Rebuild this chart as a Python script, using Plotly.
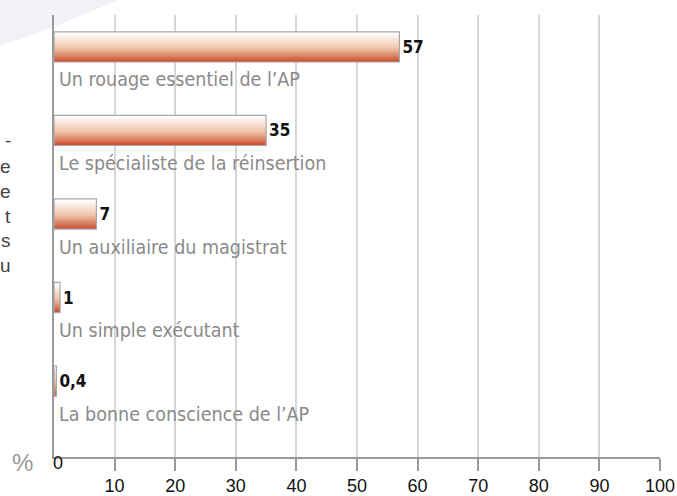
import plotly.graph_objects as go

categories = ["Un rouage essentiel de l\u2019AP", "Le sp\u00e9cialiste de la r\u00e9insertion",
              "Un auxiliaire du magistrat", "Un simple ex\u00e9cutant",
              "La bonne conscience de l\u2019AP"]
values = [57, 35, 7, 1, 0.4]
value_labels = ["57", "35", "7", "1", "0,4"]
tick_vals = [10, 20, 30, 40, 50, 60, 70, 80, 90, 100]
tick_text = ["10", "20", "30", "40", "50", "60", "70", "80", "90", "100"]
side_fragments = ["-", "e", "e", "t", "s", "u"]

W, H = 677, 496
ML, MR, MT, MB = 54, 17, 15, 39
PW, PH = W - ML - MR, H - MT - MB

def px2paper(px, py):
    return (px - ML) / PW, (H - MB - py) / PH

NARROW = "DejaVu Sans Condensed, Liberation Sans Narrow, sans-serif"
PLAIN = "Liberation Sans, Arial, sans-serif"

fig = go.Figure()

# gradient bars built from stacked layers (each later layer covers the rest below)
N = 16
bw = 0.36
step = bw / N
top = (255, 255, 255)
mid = (240, 196, 170)
bot = (204, 84, 52)
def lerp(a, b, t):
    return tuple(int(round(a[i] + (b[i] - a[i]) * t)) for i in range(3))
for k in range(N):
    t = k / (N - 1)
    if t < 0.55:
        c = lerp(top, mid, t / 0.55)
    else:
        c = lerp(mid, bot, (t - 0.55) / 0.45)
    fig.add_trace(go.Bar(
        x=values, y=categories, orientation="h",
        width=bw - k * step, offset=-bw / 2 + k * step,
        marker=dict(color="rgb(%d,%d,%d)" % c, line=dict(width=0)),
        hoverinfo="skip", showlegend=False))

# outline + value labels
fig.add_trace(go.Bar(
    x=values, y=categories, orientation="h",
    width=bw, offset=-bw / 2,
    marker=dict(color="rgba(0,0,0,0)", line=dict(color="#a8a8a8", width=1.2)),
    text=["<b>%s</b>" % v for v in value_labels], textposition="outside",
    textfont=dict(family=NARROW, size=17, color="#111111"),
    cliponaxis=False, showlegend=False))

annotations = []
for cat in categories:
    annotations.append(dict(x=0, y=cat, xref="x", yref="y", text=cat,
                            showarrow=False, xanchor="left", yanchor="middle",
                            xshift=3, yshift=-33,
                            font=dict(family=NARROW, size=19.5, color="#8a8a8a")))

annotations.append(dict(x=0, y=0, xref="x", yref="paper", text="0", showarrow=False,
                        xanchor="left", yanchor="middle", xshift=-3, yshift=-6,
                        font=dict(family=PLAIN, size=18, color="#111")))
annotations.append(dict(x=px2paper(22, 0)[0], y=px2paper(0, 462)[1], xref="paper", yref="paper",
                        text="%", showarrow=False, xanchor="center", yanchor="middle",
                        font=dict(family=PLAIN, size=24, color="#999")))
frag_y = [140, 166, 191, 216, 241, 265]
for f, py in zip(side_fragments, frag_y):
    annotations.append(dict(x=px2paper(13, 0)[0], y=px2paper(0, py)[1], xref="paper", yref="paper",
                            text=f, showarrow=False, xanchor="right", yanchor="middle",
                            font=dict(family=PLAIN, size=19, color="#444")))

x0, y0 = px2paper(0, 0)
x1, _ = px2paper(118, 0)
xq, yq = px2paper(55, 28)
_, y2 = px2paper(0, 46)
swoosh = dict(type="path", xref="paper", yref="paper", layer="below",
              path="M %f,%f L %f,%f Q %f,%f %f,%f Z" % (x0, y0, x1, y0, xq, yq, x0, y2),
              fillcolor="#f1f1f8", line=dict(width=0))

fig.update_layout(
    width=W, height=H, margin=dict(l=ML, r=MR, t=MT, b=MB, autoexpand=False),
    paper_bgcolor="white", plot_bgcolor="white",
    barmode="overlay", showlegend=False,
    annotations=annotations, shapes=[swoosh],
    xaxis=dict(range=[0, 100], tickvals=tick_vals, ticktext=tick_text,
               showgrid=True, gridcolor="#d6d6d6", gridwidth=1.5,
               showline=True, linecolor="#9a9a9a", linewidth=1.5,
               ticks="outside", ticklen=12, tickcolor="#9a9a9a", tickwidth=1.5,
               tickfont=dict(family=PLAIN, size=18, color="#111"),
               zeroline=False, fixedrange=True, automargin=False),
    yaxis=dict(type="category", categoryarray=categories, range=[4.91, -0.383],
               showticklabels=False, showgrid=False, zeroline=False,
               showline=True, linecolor="#9a9a9a", linewidth=1.5, ticks="",
               fixedrange=True, automargin=False),
)

fig.write_html("out.html", config={"displayModeBar": False},
               post_script="document.body.style.margin='0';document.body.style.overflow='hidden';")
